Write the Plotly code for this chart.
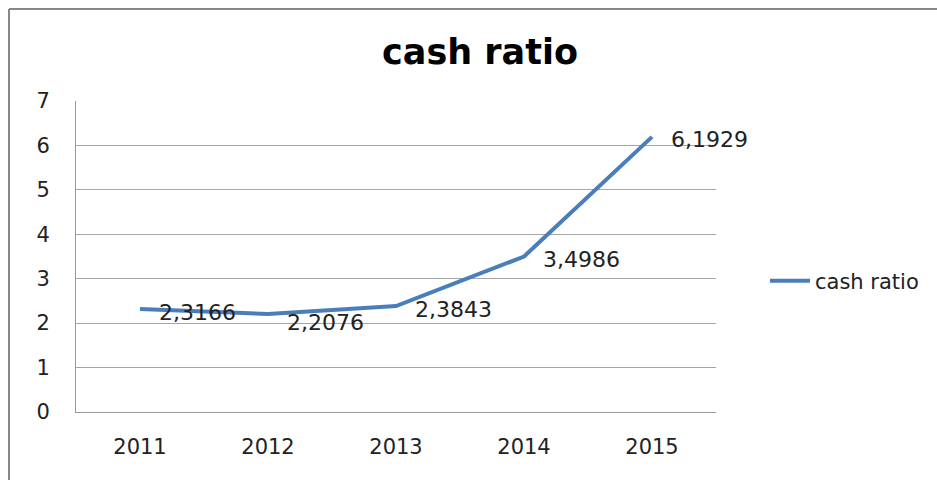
import plotly.graph_objects as go

years = ["2011", "2012", "2013", "2014", "2015"]
cash_ratio = [2.3166, 2.2076, 2.3843, 3.4986, 6.1929]
labels = ["2,3166", "2,2076", "2,3843", "3,4986", "6,1929"]
y_ticks = [0, 1, 2, 3, 4, 5, 6, 7]

FONT = "DejaVu Sans"
W, H = 937, 480
L, R, T, B = 76, 716, 101, 412

fig = go.Figure()
fig.add_trace(go.Scatter(
    x=years, y=cash_ratio, mode="lines", name="cash ratio",
    line=dict(color="#4A7EBB", width=4),
    hoverinfo="skip",
))

for i, (y, t) in enumerate(zip(cash_ratio, labels)):
    # the 2012 label sits a little lower in the original to avoid the line
    ys = -9 if i == 1 else -3
    fig.add_annotation(x=i, y=y, xref="x", yref="y", text=t, showarrow=False,
                       xanchor="left", yanchor="middle", xshift=17, yshift=ys,
                       font=dict(family=FONT, size=22, color="#222222"))

pw, ph = R - L, B - T
def px(x):
    return (x - L) / pw
def py(y):
    return (B - y) / ph

# outer chart border (left and top)
fig.add_shape(type="line", xref="paper", yref="paper",
              x0=px(9), x1=px(9), y0=py(490), y1=py(9),
              line=dict(color="#878787", width=2))
fig.add_shape(type="line", xref="paper", yref="paper",
              x0=px(9), x1=px(945), y0=py(9), y1=py(9),
              line=dict(color="#878787", width=2))

fig.update_layout(
    width=W, height=H,
    margin=dict(l=L, r=W - R, t=T, b=H - B, pad=0),
    paper_bgcolor="white", plot_bgcolor="white",
    title=dict(text="<b>cash ratio</b>", x=480 / W, xanchor="center",
               y=1 - 52 / H, yanchor="middle",
               font=dict(family=FONT, size=35, color="#000000")),
    showlegend=True,
    legend=dict(x=px(765), y=py(281), xanchor="left", yanchor="middle",
                font=dict(family=FONT, size=21, color="#222222"),
                bgcolor="rgba(0,0,0,0)", itemwidth=40, tracegroupgap=0),
    xaxis=dict(type="category", range=[-0.5, 4.5], showgrid=False,
               showline=True, linecolor="#9a9a9a", linewidth=1,
               ticks="", ticklabelstandoff=16,
               tickfont=dict(family=FONT, size=21, color="#222222"),
               fixedrange=True),
    yaxis=dict(range=[0, 7], tickvals=y_ticks, showgrid=True,
               gridcolor="#a6a6a6", gridwidth=1,
               showline=True, linecolor="#9a9a9a", linewidth=1,
               ticks="", ticklabelstandoff=21, zeroline=False,
               tickfont=dict(family=FONT, size=21, color="#222222"),
               fixedrange=True),
    hovermode=False,
)

fig.write_html("out.html", config={"displayModeBar": False},
               post_script="document.body.style.margin='0';document.body.style.overflow='hidden';")
